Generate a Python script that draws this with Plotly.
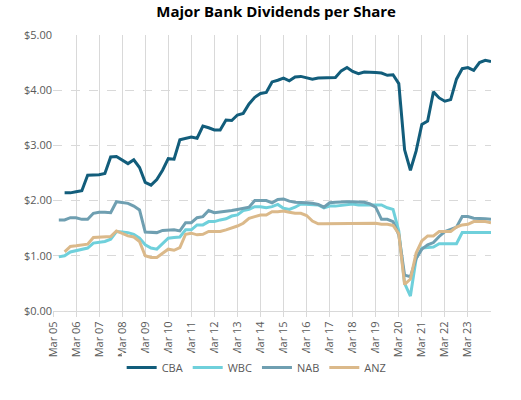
import plotly.graph_objects as go

# Quarterly dates Mar 2005 .. Mar 2024
quarters = [f"{2005 + k // 4}-{3 + 3 * (k % 4):02d}-01" for k in range(77)]

N = None
cba = [N, N, 2.14, 2.14, 2.16, 2.18, 2.46, 2.46, 2.47, 2.49,
       2.79, 2.80, 2.74, 2.67, 2.74, 2.60, 2.33, 2.28, 2.38, 2.55,
       2.76, 2.75, 3.10, 3.12, 3.15, 3.13, 3.35, 3.32, 3.28, 3.28,
       3.46, 3.45, 3.55, 3.58, 3.75, 3.87, 3.94, 3.96, 4.15, 4.18,
       4.22, 4.17, 4.24, 4.25, 4.23, 4.20, 4.22, 4.22, 4.23, 4.23,
       4.35, 4.41, 4.34, 4.30, 4.33, 4.33, 4.32, 4.31, 4.27, 4.28,
       4.12, 2.92, 2.55, 2.90, 3.38, 3.44, 3.97, 3.86, 3.80, 3.83,
       4.20, 4.39, 4.41, 4.36, 4.50, 4.54, 4.52]
wbc = [N, 0.98, 1.00, 1.07, 1.09, 1.12, 1.14, 1.23, 1.24, 1.26,
       1.30, 1.44, 1.43, 1.42, 1.39, 1.32, 1.20, 1.14, 1.12, 1.23,
       1.32, 1.33, 1.34, 1.47, 1.47, 1.56, 1.56, 1.62, 1.62, 1.65,
       1.67, 1.72, 1.74, 1.82, 1.84, 1.89, 1.89, 1.87, 1.89, 1.93,
       1.86, 1.84, 1.88, 1.94, 1.93, 1.93, 1.92, 1.87, 1.90, 1.90,
       1.91, 1.92, 1.94, 1.92, 1.92, 1.93, 1.93, 1.92, 1.87, 1.84,
       1.45, 0.50, 0.27, 0.95, 1.14, 1.15, 1.16, 1.22, 1.22, 1.22,
       1.22, 1.42, 1.42, 1.41, 1.42, 1.42, 1.42]
nab = [N, 1.65, 1.65, 1.69, 1.69, 1.66, 1.66, 1.77, 1.79, 1.79,
       1.78, 1.98, 1.96, 1.95, 1.90, 1.83, 1.43, 1.42, 1.42, 1.46,
       1.47, 1.47, 1.45, 1.60, 1.60, 1.69, 1.71, 1.82, 1.78, 1.79,
       1.80, 1.82, 1.84, 1.86, 1.88, 2.00, 2.00, 2.00, 1.96, 2.02,
       2.03, 1.99, 1.97, 1.97, 1.96, 1.95, 1.93, 1.88, 1.96, 1.97,
       1.98, 1.98, 1.98, 1.98, 1.97, 1.94, 1.88, 1.66, 1.66, 1.62,
       1.38, 0.65, 0.62, 0.95, 1.12, 1.20, 1.24, 1.35, 1.44, 1.48,
       1.52, 1.71, 1.71, 1.68, 1.68, 1.67, 1.66]
anz = [N, N, 1.07, 1.17, 1.18, 1.19, 1.21, 1.33, 1.34, 1.34,
       1.35, 1.45, 1.41, 1.36, 1.34, 1.26, 1.00, 0.97, 0.97, 1.04,
       1.12, 1.10, 1.15, 1.39, 1.41, 1.38, 1.39, 1.44, 1.44, 1.44,
       1.47, 1.50, 1.54, 1.59, 1.68, 1.71, 1.74, 1.74, 1.80, 1.80,
       1.81, 1.79, 1.77, 1.77, 1.73, 1.63, 1.58, 1.58, 1.58, 1.58,
       1.59, 1.58, 1.58, 1.59, 1.59, 1.59, 1.59, 1.57, 1.57, 1.55,
       1.40, 0.48, 0.58, 1.05, 1.27, 1.36, 1.36, 1.44, 1.44, 1.44,
       1.52, 1.56, 1.57, 1.62, 1.62, 1.62, 1.60]

tick_dates = [f"{y}-03-01" for y in range(2005, 2024)]
tick_labels = [f"Mar {y % 100:02d}" for y in range(2005, 2024)]

series = [("CBA", cba, "#125d7b"), ("WBC", wbc, "#6fd0db"),
          ("NAB", nab, "#6f9fb1"), ("ANZ", anz, "#dbb98a")]

fig = go.Figure()
for name, vals, col in series:
    fig.add_trace(go.Scatter(x=quarters, y=vals, name=name, mode="lines",
                             line=dict(color=col, width=3), connectgaps=False))

FONT = "Open Sans"
fig.update_layout(
    width=521, height=400,
    margin=dict(l=53, r=30, t=35, b=89),
    paper_bgcolor="white", plot_bgcolor="white",
    title=dict(text="<b>Major Bank Dividends per Share</b>", x=0.53, xanchor="center",
               y=0.97, yanchor="middle", font=dict(family=FONT, size=15, color="black")),
    showlegend=True,
    legend=dict(orientation="h", x=0.465, xanchor="center", y=-0.205, yanchor="middle",
                font=dict(family=FONT, size=11, color="#595959"), itemwidth=30),
    font=dict(family=FONT, size=11, color="#595959"),
)
fig.update_xaxes(
    type="date", range=["2005-03-01", "2024-03-01"],
    tickvals=tick_dates, ticktext=tick_labels, tickangle=-90,
    showgrid=True, gridcolor="#d9d9d9", gridwidth=1,
    showline=True, linecolor="#d9d9d9", linewidth=1,
    ticks="outside", ticklen=5, tickcolor="#d9d9d9",
    tickfont=dict(family=FONT, size=11, color="#595959"),
)
fig.update_yaxes(
    range=[0, 5], dtick=1, tickprefix="$", tickformat=".2f",
    showgrid=True, gridcolor="#d9d9d9", griddash="dash", gridwidth=1,
    zeroline=False, showline=False,
    tickfont=dict(family=FONT, size=11, color="#595959"),
)
fig.write_html("out.html", config={"displayModeBar": False},
               post_script="document.body.style.margin='0';document.body.style.overflow='hidden';")
